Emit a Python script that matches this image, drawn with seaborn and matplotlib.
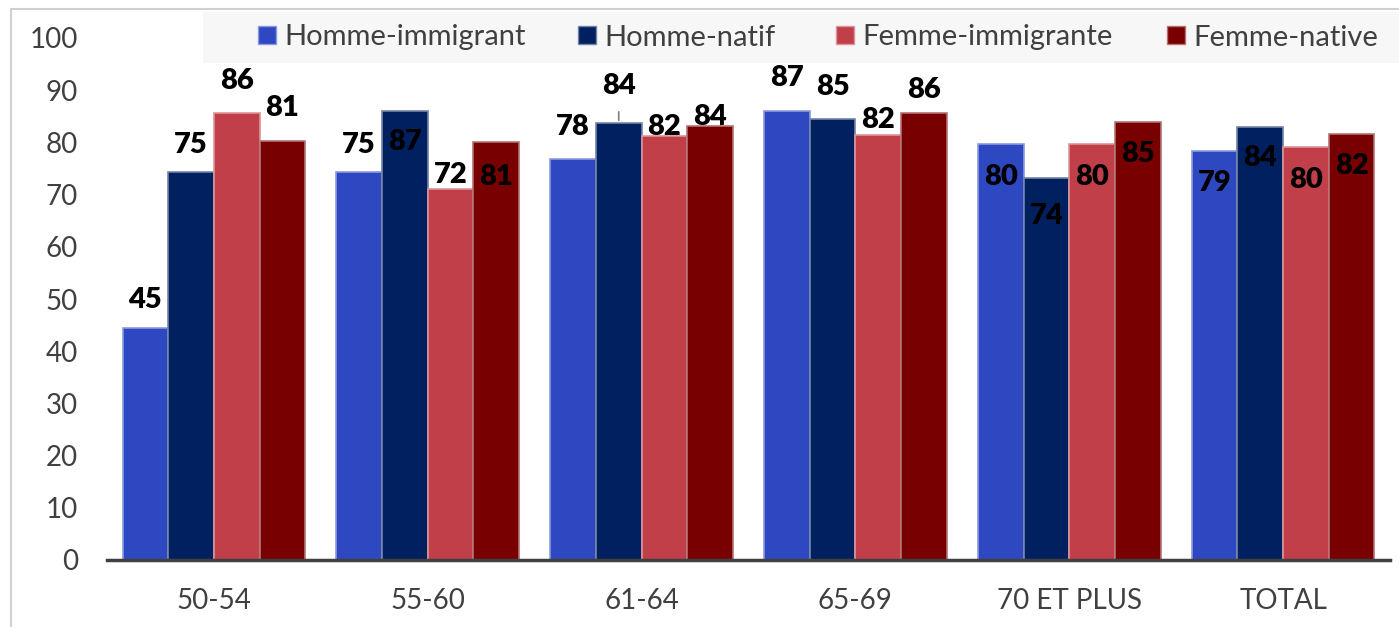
import matplotlib
matplotlib.use("Agg")
import matplotlib.pyplot as plt
import seaborn as sns
import pandas as pd
from matplotlib.patches import Rectangle, Patch
from matplotlib.lines import Line2D
import matplotlib.colors as mcolors

# ---- data ----
categories = ["50-54", "55-60", "61-64", "65-69", "70 ET PLUS", "TOTAL"]
series = ["Homme-immigrant", "Homme-natif", "Femme-immigrante", "Femme-native"]
homme_immigrant = [44.4, 74.4, 76.8, 86.0, 79.6, 78.4]
homme_natif = [74.4, 86.0, 83.7, 84.4, 73.1, 82.9]
femme_immigrante = [85.6, 71.0, 81.2, 81.5, 79.6, 79.1]
femme_native = [80.2, 80.1, 83.2, 85.7, 84.0, 81.7]

labels_hi = [45, 75, 78, 87, 80, 79]
labels_hn = [75, 87, 84, 85, 74, 84]
labels_fi = [86, 72, 82, 82, 80, 80]
labels_fn = [81, 81, 84, 86, 85, 82]

# label vertical offsets in pixels (negative = above bar top, positive = inside)
offsets_hi = [-28, -27, -32, -33, 33, 32]
offsets_hn = [-27, 31, -37, -32, 38, 31]
offsets_fi = [-32, -14, -9, -15, 33, 33]
offsets_fn = [-33, 35, -9, -23, 32, 32]

colors = ["#2E48C2", "#002060", "#C13F48", "#780000"]

values = [homme_immigrant, homme_natif, femme_immigrante, femme_native]
all_labels = [labels_hi, labels_hn, labels_fi, labels_fn]
all_offsets = [offsets_hi, offsets_hn, offsets_fi, offsets_fn]

rows = []
for s, vals in zip(series, values):
    for c, v in zip(categories, vals):
        rows.append({"cat": c, "serie": s, "val": v})
df = pd.DataFrame(rows)

sns.set_theme(style="white")
plt.rcParams["font.family"] = ["Lato", "DejaVu Sans"]

W, H = 1399, 627
fig = plt.figure(figsize=(W / 100, H / 100), dpi=100)
ax = fig.add_axes([107 / W, 1 - 560 / H, (1390 - 107) / W, (560 - 38) / H])

sns.barplot(data=df, x="cat", y="val", hue="serie", order=categories,
            hue_order=series, palette=colors, width=0.855, ax=ax,
            saturation=1, legend=False)

def lighten(c, f=0.45):
    r, g, b = mcolors.to_rgb(c)
    return (r + (1 - r) * f, g + (1 - g) * f, b + (1 - b) * f)

for cont, col, labs, offs in zip(ax.containers, colors, all_labels, all_offsets):
    for bar, lab, off in zip(cont, labs, offs):
        bar.set_edgecolor(lighten(col))
        bar.set_linewidth(1.2)
        x = bar.get_x() + bar.get_width() / 2
        y = bar.get_height()
        ax.annotate(str(lab), xy=(x, y), xytext=(0, -off), textcoords="offset pixels",
                    ha="center", va="center", fontsize=21, fontweight="heavy",
                    color="black", zorder=5)

# leader line for 61-64 Homme-natif label
bar = ax.containers[1][2]
xl = bar.get_x() + bar.get_width() / 2
ax.annotate("", xy=(xl, bar.get_height()), xytext=(0, 14), textcoords="offset pixels",
            arrowprops=dict(arrowstyle="-", color="#7f7f7f", lw=1.2))

ax.set_ylim(0, 100)
ax.set_xlim(-0.5, len(categories) - 0.5)
ax.set_yticks(range(0, 101, 10))
ax.set_xlabel("")
ax.set_ylabel("")
for s in ["top", "right", "left"]:
    ax.spines[s].set_visible(False)
ax.spines["bottom"].set_color("#404040")
ax.spines["bottom"].set_linewidth(2.5)
ax.tick_params(axis="both", length=0, labelsize=20, colors="#404040")
ax.tick_params(axis="y", pad=21)
ax.tick_params(axis="x", pad=20)
ax.grid(False)

# legend background and figure border
fig.patches.append(Rectangle((203 / W, 1 - 63 / H), 1 - 203 / W, 51 / H,
                             transform=fig.transFigure, facecolor="#f7f7f7",
                             edgecolor="none", zorder=0))
fig.lines.append(Line2D([11 / W, 11 / W], [0, 1 - 9 / H], transform=fig.transFigure,
                        color="#d0d0d0", lw=1.5))
fig.lines.append(Line2D([11 / W, 1], [1 - 9 / H, 1 - 9 / H], transform=fig.transFigure,
                        color="#d0d0d0", lw=1.5))

# legend entries, one per series, at the reference's entry positions
entry_x = [258, 578, 836, 1167]
for c, name, ex in zip(colors, series, entry_x):
    leg = fig.legend([Patch(facecolor=c, edgecolor=lighten(c))], [name],
                     loc="center left", bbox_to_anchor=(ex / W, 1 - 37.5 / H),
                     frameon=False, fontsize=21, handlelength=0.6, handleheight=0.6,
                     handletextpad=0.3, borderpad=0, borderaxespad=0)
    for t in leg.get_texts():
        t.set_color("#404040")

fig.savefig("out.png", dpi=100)
